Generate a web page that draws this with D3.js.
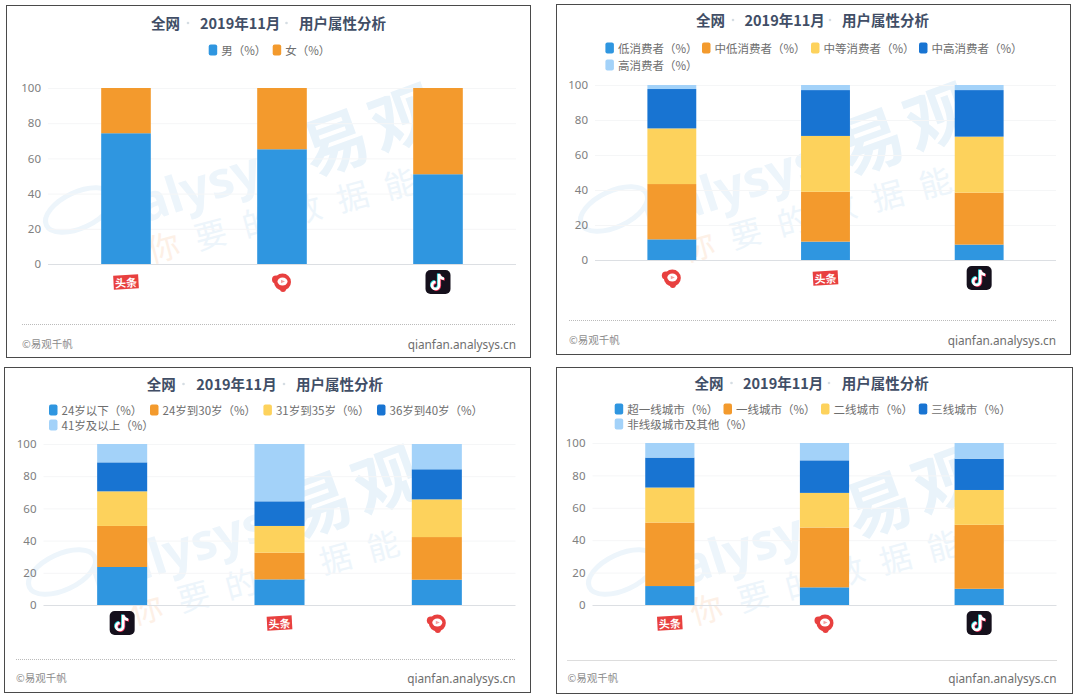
<!DOCTYPE html>
<meta charset="utf-8">
<style>
  html, body { margin: 0; background: #fff; }
  svg { display: block; font-family: "Noto Sans CJK SC", "Noto Sans", sans-serif; }
  .tick text { fill: #808080; font-size: 11.5px; font-family: "Noto Sans", sans-serif; }
</style>
<script src="https://d3js.org/d3.v7.min.js"></script>
<div id="chart"></div>
<script>
// the data
var yTicks = [0, 20, 40, 60, 80, 100];

var genderApps = ["头条", "西瓜", "抖音"];
var genderNames = ["男（%）", "女（%）"];
var genderValues = [[74.3, 25.7], [65.2, 34.8], [51, 49]];

var spendApps = ["西瓜", "头条", "抖音"];
var spendNames = ["低消费者（%）", "中低消费者（%）", "中等消费者（%）", "中高消费者（%）", "高消费者（%）"];
var spendValues = [[11.8, 31.6, 31.8, 22.5, 2.3], [10.5, 28.5, 31.9, 26.2, 2.9], [8.8, 29.7, 32, 26.6, 2.9]];

var ageApps = ["抖音", "头条", "西瓜"];
var ageNames = ["24岁以下（%）", "24岁到30岁（%）", "31岁到35岁（%）", "36岁到40岁（%）", "41岁及以上（%）"];
var ageValues = [[23.6, 25.5, 21.5, 18, 11.4], [15.9, 16.6, 16.6, 15.3, 35.6], [15.7, 26.5, 23.4, 18.7, 15.7]];

var cityApps = ["头条", "西瓜", "抖音"];
var cityNames = ["超一线城市（%）", "一线城市（%）", "二线城市（%）", "三线城市（%）", "非线级城市及其他（%）"];
var cityValues = [[11.7, 39.2, 21.6, 18.5, 9], [10.9, 36.9, 21.4, 20.1, 10.7], [10, 39.5, 21.5, 19.3, 9.7]];

var colors = ["#2f96e0", "#f39a2d", "#fdd25c", "#1874d2", "#a3d2f9"];
var titleParts = ["全网", "2019年11月", "用户属性分析"];

// where each panel sits on the page
var panels = [
  { apps: genderApps, names: genderNames, values: genderValues,
    box: [6, 5, 530, 357], left: 48, right: 516, y0: 264, y100: 88, markX: 15,
    titleX: [151, 200, 299], dotX: [188, 286.5], titleY: 22,
    legendX: [208.7, 272.7], legendY: [50, 50], lineY: 324, lineX: 22, footY: 343 },
  { apps: spendApps, names: spendNames, values: spendValues,
    box: [556, 4, 1070, 354], left: 595, right: 1056, y0: 260, y100: 85, markX: 0,
    titleX: [696, 744.5, 842], dotX: [733, 830], titleY: 19,
    legendX: [605.4, 702, 811, 919, 605.4], legendY: [48, 48, 48, 48, 65], lineY: 320, lineX: 569, footY: 339 },
  { apps: ageApps, names: ageNames, values: ageValues,
    box: [4, 367, 530, 692], left: 43.5, right: 515.5, y0: 605, y100: 444, markX: 0,
    titleX: [146.7, 196.3, 296], dotX: [183.5, 284], titleY: 383,
    legendX: [49, 150, 263.4, 377, 49], legendY: [410, 410, 410, 410, 425], lineY: 659, lineX: 16, footY: 677 },
  { apps: cityApps, names: cityNames, values: cityValues,
    box: [556, 367, 1072, 693], left: 592.5, right: 1056.5, y0: 605, y100: 443, markX: 8,
    titleX: [694.6, 743, 841.7], dotX: [731.5, 829], titleY: 382,
    legendX: [614.7, 723.5, 821, 918.8, 614.7], legendY: [409, 409, 409, 409, 424], lineY: 660, lineX: 567.5, footY: 677 }
];

var svg = d3.select("#chart").append("svg")
  .attr("width", 1080)
  .attr("height", 700);

panels.forEach(function (p) {
  var g = svg.append("g");

  g.append("rect")
    .attr("x", p.box[0] + 0.5)
    .attr("y", p.box[1] + 0.5)
    .attr("width", p.box[2] - p.box[0])
    .attr("height", p.box[3] - p.box[1])
    .attr("fill", "#fff")
    .attr("stroke", "#4a4a4a");

  drawWatermark(g, p);

  // title
  g.selectAll(".title").data(titleParts).enter().append("text")
    .attr("x", function (d, i) { return p.titleX[i]; })
    .attr("y", p.titleY)
    .attr("dominant-baseline", "central")
    .attr("font-size", 14.5)
    .attr("font-weight", 700)
    .attr("fill", "#414e66")
    .text(function (d) { return d; });
  g.selectAll(".dot").data(p.dotX).enter().append("circle")
    .attr("cx", function (d) { return d; })
    .attr("cy", p.titleY + 1)
    .attr("r", 1.3)
    .attr("fill", "#d5dde3");

  // legend
  var item = g.selectAll(".item").data(p.names).enter().append("g")
    .attr("transform", function (d, i) { return "translate(" + p.legendX[i] + "," + p.legendY[i] + ")"; });
  item.append("rect")
    .attr("y", -5.5)
    .attr("width", 8.5)
    .attr("height", 11)
    .attr("rx", 2)
    .attr("fill", function (d, i) { return colors[i]; });
  item.append("text")
    .attr("x", 12.5)
    .attr("dominant-baseline", "central")
    .attr("font-size", 11.5)
    .attr("fill", "#6e6e6e")
    .text(function (d) { return d; });

  // scales
  var x = d3.scaleBand()
    .domain(p.apps)
    .range([p.left, p.right])
    .paddingInner(0.682)
    .paddingOuter(0.341);
  var y = d3.scaleLinear()
    .domain([0, 100])
    .range([p.y0, p.y100]);

  var axis = g.append("g")
    .attr("transform", "translate(" + p.left + ",0)")
    .call(d3.axisLeft(y).tickValues(yTicks).tickSize(-(p.right - p.left)).tickPadding(7));
  axis.select(".domain").remove();
  axis.selectAll(".tick line")
    .attr("stroke", function (d) { return d === 0 ? "#dcdfe3" : "#f5f6f7"; });

  // bars
  var stack = d3.stack().keys(d3.range(p.names.length))(p.values);
  g.selectAll(".layer").data(stack).enter().append("g")
    .attr("fill", function (d, i) { return colors[i]; })
    .selectAll("rect")
    .data(function (d) { return d; })
    .enter().append("rect")
      .attr("x", function (d, i) { return x(p.apps[i]); })
      .attr("y", function (d) { return y(d[1]); })
      .attr("width", x.bandwidth())
      .attr("height", function (d) { return y(d[0]) - y(d[1]); });

  // app logos stand in for the category labels
  p.apps.forEach(function (app) {
    var logo = g.append("g")
      .attr("transform", "translate(" + (x(app) + x.bandwidth() / 2) + "," + (p.y0 + 18) + ")");
    if (app === "头条") drawToutiao(logo);
    if (app === "西瓜") drawXigua(logo);
    if (app === "抖音") drawDouyin(logo);
  });

  // footer
  g.append("line")
    .attr("x1", p.lineX)
    .attr("x2", p.right)
    .attr("y1", p.lineY + 0.5)
    .attr("y2", p.lineY + 0.5)
    .attr("stroke", "#bbb")
    .attr("stroke-dasharray", "1 1");
  g.append("text")
    .attr("x", p.lineX)
    .attr("y", p.footY)
    .attr("dominant-baseline", "central")
    .attr("font-size", 10.5)
    .attr("fill", "#8c8c8c")
    .text("©易观千帆");
  g.append("text")
    .attr("x", p.right)
    .attr("y", p.footY + 1)
    .attr("text-anchor", "end")
    .attr("dominant-baseline", "central")
    .attr("font-size", 11.8)
    .attr("font-family", "Noto Sans, sans-serif")
    .attr("fill", "#6e6e6e")
    .text("qianfan.analysys.cn");
});

function drawWatermark(g, p) {
  var w = g.append("g")
    .attr("transform", "translate(" + (p.box[0] + p.markX) + "," + p.box[1] + ")")
    .attr("fill", "#edf5fb");
  w.append("ellipse")
    .attr("rx", 36)
    .attr("ry", 18)
    .attr("transform", "translate(58,205) rotate(-25)")
    .attr("fill", "none")
    .attr("stroke", "#edf5fb")
    .attr("stroke-width", 5);
  w.append("text")
    .attr("transform", "translate(92,228) rotate(-18)")
    .attr("font-size", 50)
    .attr("font-weight", 700)
    .attr("font-family", "Noto Sans, sans-serif")
    .text("nalysys");
  w.append("text")
    .attr("transform", "translate(292,172) rotate(-20)")
    .attr("font-size", 66)
    .attr("font-weight", 700)
    .attr("letter-spacing", 6)
    .attr("fill", "#e9f3fa")
    .text("易观");
  var t = w.append("text")
    .attr("transform", "translate(130,258) rotate(-15)")
    .attr("font-size", 32)
    .attr("letter-spacing", 17);
  t.append("tspan").attr("fill", "#fdf0e6").text("你");
  t.append("tspan").text("要的数据能力");
}

function drawToutiao(logo) {
  logo.append("rect")
    .attr("x", -12.5)
    .attr("y", -7)
    .attr("width", 25)
    .attr("height", 14)
    .attr("transform", "rotate(-3)")
    .attr("fill", "#e8403f");
  logo.append("text")
    .attr("text-anchor", "middle")
    .attr("dominant-baseline", "central")
    .attr("transform", "rotate(-3)")
    .attr("font-size", 11)
    .attr("font-weight", 700)
    .attr("fill", "#fff")
    .text("头条");
}

function drawXigua(logo) {
  logo.append("circle").attr("r", 8.5).attr("cx", 0.5).attr("fill", "#e8403f");
  logo.append("circle").attr("r", 4).attr("cx", -6).attr("cy", -2.5).attr("fill", "#e8403f");
  logo.append("circle").attr("r", 3).attr("cx", 1).attr("cy", 7).attr("fill", "#e8403f");
  logo.append("ellipse")
    .attr("rx", 5)
    .attr("ry", 4)
    .attr("cx", 0.5)
    .attr("cy", -0.5)
    .attr("fill", "#fff");
  logo.append("path").attr("d", "M-1,-2.2L3,-0.5L-1,1.2Z").attr("fill", "#f4a0a0");
}

function drawDouyin(logo) {
  logo.append("rect")
    .attr("x", -12.5)
    .attr("y", -12)
    .attr("width", 25)
    .attr("height", 24)
    .attr("rx", 5)
    .attr("fill", "#15101c");
  var note = "M1,-8V3.5A3.5,3.5 0 1 1 -2.5,0M1,-8C1.5,-5 3.5,-3.5 6,-3.2";
  [["#25d8e0", -0.8, -0.6], ["#f0325a", 0.8, 0.6], ["#fff", 0, 0]].forEach(function (c) {
    logo.append("path")
      .attr("d", note)
      .attr("transform", "translate(" + c[1] + "," + c[2] + ")")
      .attr("fill", "none")
      .attr("stroke", c[0])
      .attr("stroke-width", 2.6);
  });
}
</script>
